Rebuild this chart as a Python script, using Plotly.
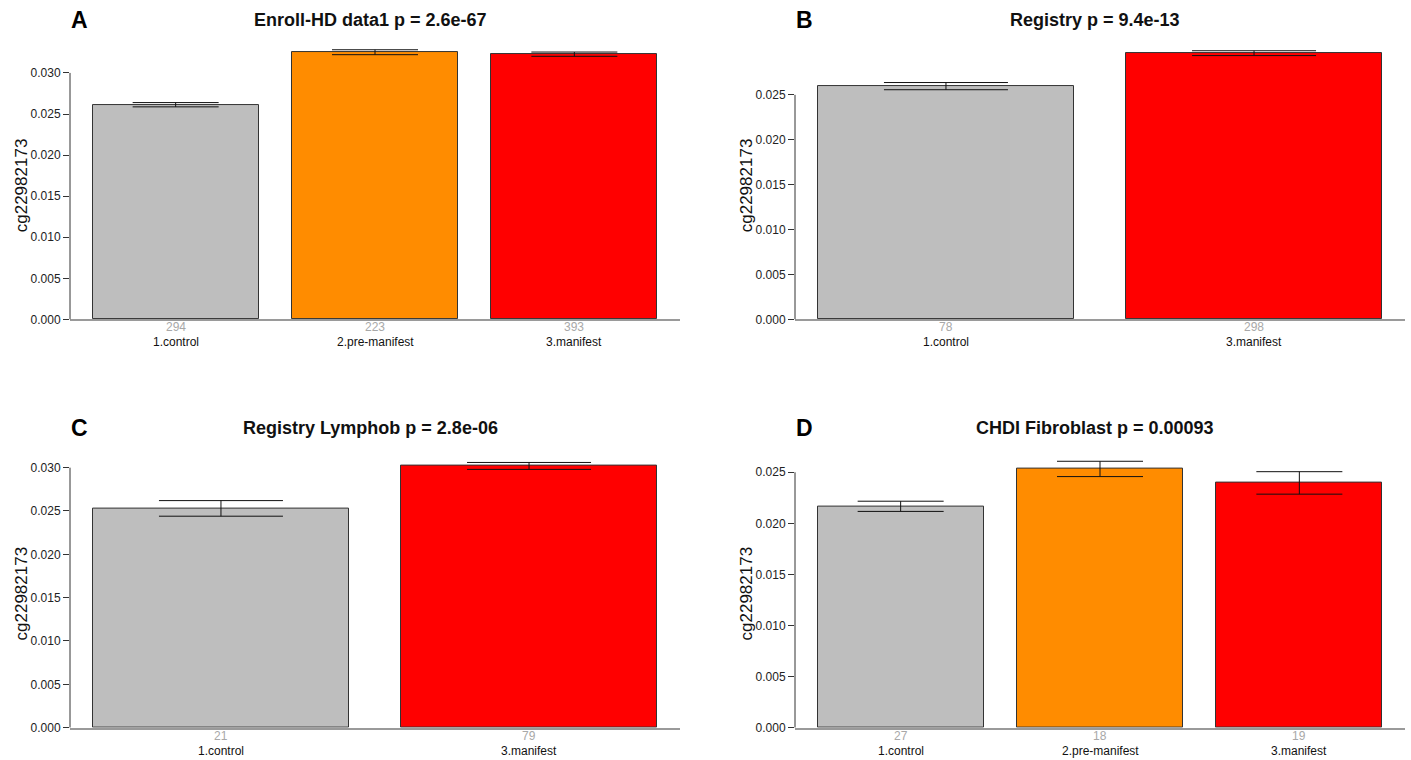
import plotly.graph_objects as go

# ---------------- data ----------------
A_categories = ["1.control", "2.pre-manifest", "3.manifest"]
A_means = [0.02613, 0.03252, 0.03228]
A_se = [0.00026, 0.00030, 0.00026]
A_n = [294, 223, 393]
A_ticks = [0.000, 0.005, 0.010, 0.015, 0.020, 0.025, 0.030]
A_title = "Enroll-HD data1 p = 2.6e-67"

B_categories = ["1.control", "3.manifest"]
B_means = [0.02597, 0.02964]
B_se = [0.00040, 0.00027]
B_n = [78, 298]
B_ticks = [0.000, 0.005, 0.010, 0.015, 0.020, 0.025]
B_title = "Registry p = 9.4e-13"

C_categories = ["1.control", "3.manifest"]
C_means = [0.02530, 0.03020]
C_se = [0.00090, 0.00040]
C_n = [21, 79]
C_ticks = [0.000, 0.005, 0.010, 0.015, 0.020, 0.025, 0.030]
C_title = "Registry Lymphob p = 2.8e-06"

D_categories = ["1.control", "2.pre-manifest", "3.manifest"]
D_means = [0.02167, 0.02533, 0.02396]
D_se = [0.00050, 0.00075, 0.00110]
D_n = [27, 18, 19]
D_ticks = [0.000, 0.005, 0.010, 0.015, 0.020, 0.025]
D_title = "CHDI Fibroblast p = 0.00093"

y_label = "cg22982173"
colour_map = {"1.control": "#BEBEBE", "2.pre-manifest": "#FF8C00", "3.manifest": "#FF0000"}

# ---------------- layout helpers ----------------
W, H = 1411, 760
HP = 752.0  # effective rendered paper height in pixels
FONT = "Liberation Sans, Arial, sans-serif"


def fy(py):
    return 1 - py / HP


panels = [
    dict(letter="A", cats=A_categories, means=A_means, se=A_se, n=A_n, ticks=A_ticks, title=A_title,
         px=(70, 680), py=(40, 319), ymax=0.0340, cap=43, ty=20),
    dict(letter="B", cats=B_categories, means=B_means, se=B_se, n=B_n, ticks=B_ticks, title=B_title,
         px=(795, 1405), py=(40, 319), ymax=0.0311, cap=62, ty=20),
    dict(letter="C", cats=C_categories, means=C_means, se=C_se, n=C_n, ticks=C_ticks, title=C_title,
         px=(70, 680), py=(448, 726.7), ymax=0.0322, cap=62, ty=427),
    dict(letter="D", cats=D_categories, means=D_means, se=D_se, n=D_n, ticks=D_ticks, title=D_title,
         px=(795, 1405), py=(448, 726.7), ymax=0.02732, cap=43, ty=427),
]

fig = go.Figure()
annotations = []
shapes = []
layout_axes = {}

for i, p in enumerate(panels, start=1):
    xa = "x" if i == 1 else f"x{i}"
    ya = "y" if i == 1 else f"y{i}"
    xkey = "xaxis" if i == 1 else f"xaxis{i}"
    ykey = "yaxis" if i == 1 else f"yaxis{i}"
    n = len(p["cats"])
    bw = 1 / 1.2
    ext = 0.04 * (n - 1 + bw)
    xr = [-(bw / 2 + ext), n - 1 + bw / 2 + ext]

    fig.add_trace(go.Bar(
        x=p["cats"], y=p["means"], xaxis=xa, yaxis=ya, width=bw,
        marker=dict(color=[colour_map[c] for c in p["cats"]], line=dict(color="#333333", width=1)),
        error_y=dict(type="data", array=p["se"], color="#111111", thickness=1, width=p["cap"]),
        showlegend=False, hoverinfo="x+y",
    ))

    xd = [p["px"][0] / W, p["px"][1] / W]
    yd = [fy(p["py"][1]), fy(p["py"][0])]

    layout_axes[xkey] = dict(
        domain=xd, anchor=ya, range=xr, type="category",
        showticklabels=False,
        showline=True, linecolor="#9a9a9a", linewidth=1.5,
        ticks="", showgrid=False, zeroline=False, fixedrange=True,
    )
    layout_axes[ykey] = dict(
        domain=yd, anchor=xa, range=[0, p["ymax"]],
        tickmode="array", tickvals=p["ticks"], ticktext=[f"{t:.3f}" for t in p["ticks"]],
        ticks="outside", ticklen=6, tickcolor="#333333", tickwidth=1,
        showline=False, showgrid=False, zeroline=False, fixedrange=True,
        tickfont=dict(family=FONT, size=12, color="#222222"),
    )
    # R-style y axis line spanning only the tick range
    shapes.append(dict(type="line", xref=f"{xa} domain", yref=ya, x0=0, x1=0,
                       y0=p["ticks"][0], y1=p["ticks"][-1], line=dict(color="#333333", width=1)))

    # category labels: group size (grey) and name
    for c, cnt in zip(p["cats"], p["n"]):
        annotations.append(dict(text=str(cnt), xref=xa, yref=f"{ya} domain", x=c, y=0,
                                yshift=-8, xanchor="center", yanchor="middle", showarrow=False,
                                font=dict(family=FONT, size=12, color="#a8a8a8")))
        annotations.append(dict(text=c, xref=xa, yref=f"{ya} domain", x=c, y=0,
                                yshift=-23, xanchor="center", yanchor="middle", showarrow=False,
                                font=dict(family=FONT, size=12, color="#111111")))

    # title
    annotations.append(dict(text=f"<b>{p['title']}</b>", xref="paper", yref="paper",
                            x=(xd[0] + xd[1]) / 2 - 5 / W, y=fy(p["ty"]),
                            xanchor="center", yanchor="middle", showarrow=False,
                            font=dict(family=FONT, size=18, color="#111111")))
    # panel letter
    annotations.append(dict(text=f"<b>{p['letter']}</b>", xref="paper", yref="paper",
                            x=(p["px"][0] + 9) / W, y=fy(p["ty"]),
                            xanchor="center", yanchor="middle", showarrow=False,
                            font=dict(family=FONT, size=23, color="#000000")))
    # y-axis title
    annotations.append(dict(text=y_label, xref="paper", yref="paper",
                            x=(p["px"][0] - 49) / W, y=fy(p["py"][1] - 134),
                            xanchor="center", yanchor="middle", showarrow=False, textangle=-90,
                            font=dict(family=FONT, size=17, color="#111111")))

fig.update_layout(
    width=W, height=H, margin=dict(l=0, r=0, t=0, b=0),
    paper_bgcolor="white", plot_bgcolor="white",
    annotations=annotations, shapes=shapes, bargap=0,
    **layout_axes,
)

fig.write_html("out.html", config={"displayModeBar": False})
